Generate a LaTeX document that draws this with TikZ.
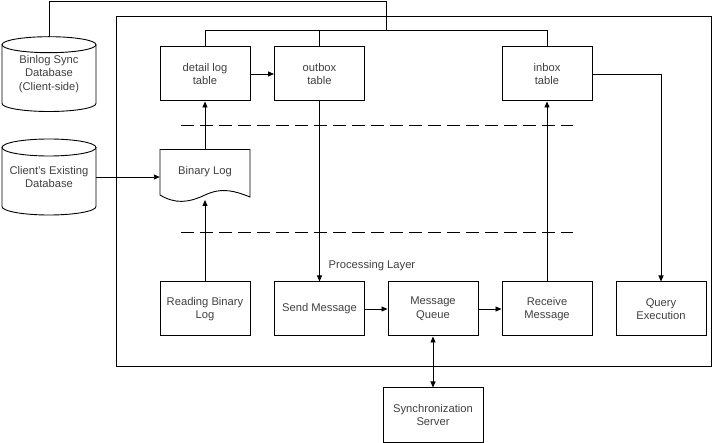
\documentclass[tikz,border=0pt]{standalone}
\usepackage{fontspec}
\setmainfont{Liberation Sans}
\usetikzlibrary{arrows.meta}
\begin{document}
\begin{tikzpicture}[x=1pt,y=-1pt,
  txt/.style={text=black!75,font=\fontsize{11.2}{13.6}\selectfont,align=center},
  box/.style={draw,line width=1pt,minimum width=90pt,minimum height=54pt,inner sep=0pt,txt},
  lbl/.style={inner sep=0pt,txt},
  ln/.style={line width=0.9pt},
  arr/.style={ln,-{Triangle[length=6pt,width=5pt]}},
  dsh/.style={line width=1pt,dash pattern=on 13pt off 6pt}]
\useasboundingbox (0,0) rectangle (712,443);
% outer container
\draw[line width=0.9pt] (116,16) rectangle (711,366);
% cylinders
\draw[ln] (49,44.7) ellipse[x radius=47, y radius=8];
\draw[ln] (2,44.7) -- (2,103.5) arc[start angle=180,end angle=0,x radius=47,y radius=8] -- (96,44.7);
\node[lbl,minimum width=94pt,minimum height=67pt] (binlogdb) at (49,74) {Binlog Sync\\Database\\(Client-side)};
\draw[ln] (49,147.5) ellipse[x radius=47, y radius=8.5];
\draw[ln] (2,147.5) -- (2,206.5) arc[start angle=180,end angle=0,x radius=47,y radius=8.5] -- (96,147.5);
\node[lbl,minimum width=94pt,minimum height=60pt] (clientdb) at (49,177) {Client's Existing\\Database};
% top tables
\node[box] (detail) at (205,74) {detail log\\table};
\node[box] (outbox) at (319.5,74) {outbox\\table};
\node[box] (inbox) at (547,74) {inbox\\table};
% binary log document
\draw[ln] (160,149.5) -- (250,149.5) -- (250,197)
  .. controls (235,191) and (222,187) .. (205,195)
  .. controls (188,203) and (175,204) .. (160,195) -- cycle;
\node[lbl,minimum width=90pt,minimum height=40pt] (binlog) at (205,172) {Binary Log};
\coordinate (binlogb) at (205,200);
% bottom boxes
\node[box] (read) at (205,309) {Reading Binary\\Log};
\node[box] (send) at (319.5,309) {Send Message};
\node[box] (mq) at (433,309) {Message\\Queue};
\node[box] (recv) at (547,309) {Receive\\Message};
\node[box] (query) at (661,309) {Query\\Execution};
\node[box,minimum width=100pt] (sync) at (433,415) {Synchronization\\Server};
\node[lbl,anchor=west] (plabel) at (328.5,266) {Processing Layer};
% dashed separators
\coordinate (d1a) at (181,126); \coordinate (d1b) at (573,126);
\coordinate (d2a) at (181,233); \coordinate (d2b) at (573,233);
\draw[dsh] (d1a) -- (d1b);
\draw[dsh] (d2a) -- (d2b);
% top connector line
\coordinate (t1) at (49,1.5); \coordinate (t2) at (386,1.5); \coordinate (t3) at (386,30);
\coordinate (jd) at (205,30); \coordinate (ji) at (547,30);
\draw[ln] (49,36.7) -- (t1) -- (t2) -- (t3);
\draw[ln] (detail.north) -- (jd) -- (ji) -- (inbox.north);
\draw[ln] (outbox.north) -- (outbox.north |- jd);
% arrows
\draw[arr] (detail.east) -- (outbox.west);
\draw[arr] (clientdb.east) -- (binlog.west |- clientdb.east);
\draw[arr] (binlog.north |- 0,149.5) -- (detail.south);
\draw[arr] (read.north) -- (binlogb);
\draw[arr] (outbox.south) -- (send.north);
\draw[arr] (recv.north) -- (inbox.south);
\draw[arr] (inbox.east) -| (query.north);
\draw[arr] (send.east) -- (mq.west);
\draw[arr] (mq.east) -- (recv.west);
\draw[ln,{Triangle[length=6pt,width=5pt]}-{Triangle[length=6pt,width=5pt]}] (mq.south) -- (sync.north);
\end{tikzpicture}
\end{document}
